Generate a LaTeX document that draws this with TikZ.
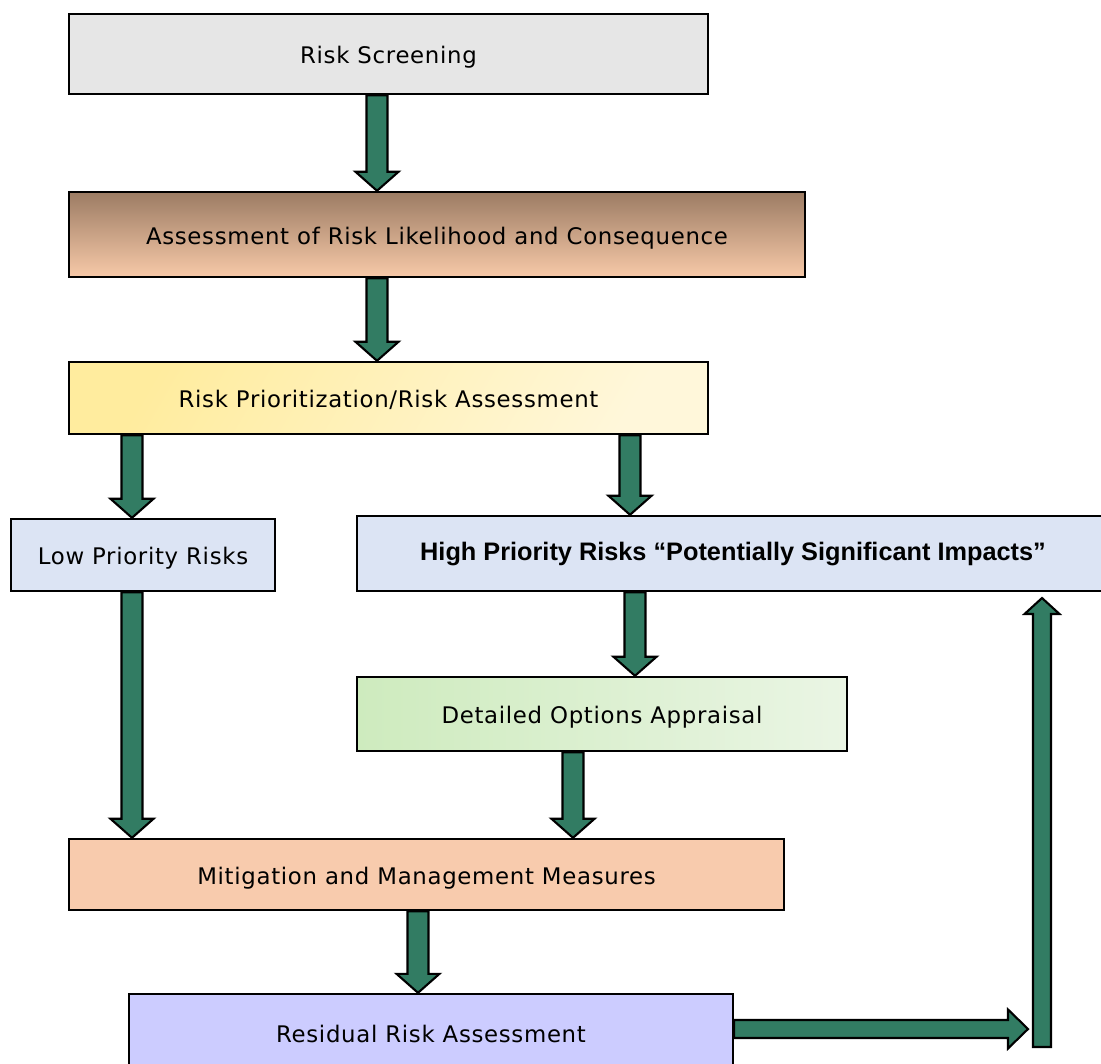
\documentclass[tikz,border=0pt]{standalone}
\usepackage{fontspec}
\setmainfont{DejaVu Sans}[LetterSpace=3]
\newfontfamily\boldsans{Liberation Sans}
\usetikzlibrary{calc}
\usetikzlibrary{positioning}

\definecolor{arrgreen}{RGB}{50,124,99}
\definecolor{scrgray}{RGB}{230,230,230}
\definecolor{assesstop}{RGB}{156,124,100}
\definecolor{assessbot}{RGB}{247,201,168}
\definecolor{prioA}{RGB}{255,236,158}
\definecolor{prioB}{RGB}{255,247,218}
\definecolor{lowblue}{RGB}{220,228,244}
\definecolor{detA}{RGB}{206,235,190}
\definecolor{detB}{RGB}{234,245,228}
\definecolor{mitpeach}{RGB}{248,203,173}
\definecolor{reslav}{RGB}{204,204,255}

\tikzset{
  stagebox/.style={draw=black, line width=1.4pt, inner sep=0pt, align=center,
    font=\fontsize{13}{15}\selectfont, text height=1.35em, text depth=0.25em},
  flowarrow/.style={draw=black, line width=1.2pt, fill=arrgreen, line join=miter}
}

% block arrows (start point, tip point)
\newcommand{\arrdown}[2]{%
  \draw[flowarrow] let \p1=(#1), \p2=(#2) in
    (\x1-0.21cm,\y1) -- (\x1-0.21cm,\y2+0.38cm) -- (\x1-0.43cm,\y2+0.38cm)
    -- (\x1,\y2) -- (\x1+0.43cm,\y2+0.38cm) -- (\x1+0.21cm,\y2+0.38cm)
    -- (\x1+0.21cm,\y1) -- cycle;}
\newcommand{\arrup}[2]{%
  \draw[flowarrow] let \p1=(#1), \p2=(#2) in
    (\x1-0.18cm,\y1) -- (\x1-0.18cm,\y2-0.32cm) -- (\x1-0.35cm,\y2-0.32cm)
    -- (\x1,\y2) -- (\x1+0.35cm,\y2-0.32cm) -- (\x1+0.18cm,\y2-0.32cm)
    -- (\x1+0.18cm,\y1) -- cycle;}
\newcommand{\arrright}[2]{%
  \draw[flowarrow] let \p1=(#1), \p2=(#2) in
    (\x1,\y1+0.18cm) -- (\x2-0.4cm,\y1+0.18cm) -- (\x2-0.4cm,\y1+0.39cm)
    -- (\x2,\y1) -- (\x2-0.4cm,\y1-0.39cm) -- (\x2-0.4cm,\y1-0.18cm)
    -- (\x1,\y1-0.18cm) -- cycle;}

\begin{document}
\begin{tikzpicture}[x=0.02cm, y=-0.02cm]
\useasboundingbox (0,0) rectangle (1101,1063);
% the stages
\node[stagebox, fill=scrgray, minimum width=12.78cm, minimum height=1.6cm]
  (scr) at (388.5,54) {Risk Screening};
\node[stagebox, top color=assesstop, bottom color=assessbot,
  minimum width=14.72cm, minimum height=1.7cm]
  (assess) at (437,234.5) {Assessment of Risk Likelihood and Consequence};
\node[stagebox, left color=prioA, right color=prioB, shading angle=60,
  minimum width=12.78cm, minimum height=1.44cm]
  (prio) at (388.5,398) {Risk Prioritization/Risk Assessment};
\node[stagebox, fill=lowblue, minimum width=5.28cm, minimum height=1.44cm]
  (low) at (143,555) {Low Priority Risks};
\node[stagebox, fill=lowblue, minimum width=15.04cm, minimum height=1.5cm,
  font=\boldsans\bfseries\fontsize{14.4}{16}\selectfont, text height=1.1em]
  (high) at (733,553.5) {High Priority Risks “Potentially Significant Impacts”};
\node[stagebox, left color=detA, right color=detB,
  minimum width=9.8cm, minimum height=1.48cm]
  (detail) at (602,714) {Detailed Options Appraisal};
\node[stagebox, fill=mitpeach, minimum width=14.3cm, minimum height=1.42cm]
  (mitig) at (426.5,874.5) {Mitigation and Management Measures};
\node[stagebox, fill=reslav, minimum width=12.08cm, minimum height=1.56cm]
  (resid) at (431,1033) {Residual Risk Assessment};
% loop back to the high priority risks
\coordinate (rtip) at (1028,1029);
\coordinate (rbase) at (1042,1047);
\coordinate (rtop) at (1042,598);
%% arrows
\arrdown{$(scr.south)+(-11.5,0)$}{assess.north}
\arrdown{$(assess.south)+(-60,0)$}{prio.north}
\arrdown{$(prio.south)+(-256.5,0)$}{low.north}
\arrdown{$(prio.south)+(241.5,0)$}{high.north}
\arrdown{$(high.south)+(-98,0)$}{detail.north}
\arrdown{$(low.south)+(-11,0)$}{mitig.north}
\arrdown{$(detail.south)+(-29,0)$}{mitig.north}
\arrdown{$(mitig.south)+(-8.5,0)$}{resid.north}
\arrright{$(resid.east)+(0,-4)$}{rtip}
\arrup{rbase}{rtop}
\end{tikzpicture}
\end{document}
